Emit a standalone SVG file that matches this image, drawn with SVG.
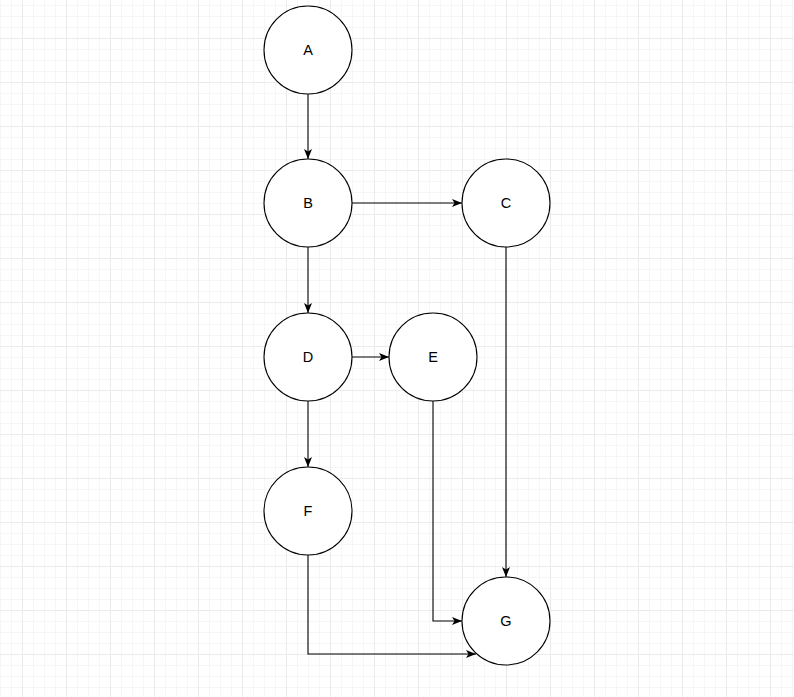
<svg xmlns="http://www.w3.org/2000/svg" width="794" height="697" viewBox="0 0 794 697">
<style>
.node circle{fill:#ffffff;stroke:#000000;stroke-width:1.1}
.node text{font-family:"Liberation Sans",Arial,Helvetica,sans-serif;font-size:14.5px;fill:#000000;text-anchor:middle;dominant-baseline:central}
.edge{fill:none;stroke:#000000;stroke-width:1.1}
</style>
<defs>
<pattern id="grid" x="22" y="38" width="44" height="44" patternUnits="userSpaceOnUse">
<path d="M11.5 0V44M22.5 0V44M33.5 0V44M0 11.5H44M0 22.5H44M0 33.5H44" stroke="#f6f6f6" stroke-width="1" fill="none"/>
<path d="M0.5 0V44M0 0.5H44" stroke="#ebebeb" stroke-width="1" fill="none"/>
</pattern>
<marker id="arr" viewBox="0 0 10 8" refX="10" refY="4" markerWidth="10" markerHeight="8" markerUnits="userSpaceOnUse" orient="auto">
<path d="M0 0L10 4L0 8L2.5 4Z" fill="#000000"/>
</marker>
</defs>
<rect width="794" height="697" fill="#ffffff"/>
<rect width="794" height="697" fill="url(#grid)"/>
<g id="connectors">
<path class="edge" d="M308 94V159" marker-end="url(#arr)"/>
<path class="edge" d="M352 203H462" marker-end="url(#arr)"/>
<path class="edge" d="M308 247V313" marker-end="url(#arr)"/>
<path class="edge" d="M352 357H389" marker-end="url(#arr)"/>
<path class="edge" d="M308 401V467" marker-end="url(#arr)"/>
<path class="edge" d="M506 247V577" marker-end="url(#arr)"/>
<path class="edge" d="M433 401V621H462" marker-end="url(#arr)"/>
<path class="edge" d="M308 555V654H476" marker-end="url(#arr)"/>
</g>
<g id="A" class="node"><circle cx="308" cy="50" r="44"/><text x="308" y="50">A</text></g>
<g id="B" class="node"><circle cx="308" cy="203" r="44"/><text x="308" y="203">B</text></g>
<g id="C" class="node"><circle cx="506" cy="203" r="44"/><text x="506" y="203">C</text></g>
<g id="D" class="node"><circle cx="308" cy="357" r="44"/><text x="308" y="357">D</text></g>
<g id="E" class="node"><circle cx="433" cy="357" r="44"/><text x="433" y="357">E</text></g>
<g id="F" class="node"><circle cx="308" cy="511" r="44"/><text x="308" y="511">F</text></g>
<g id="G" class="node"><circle cx="506" cy="621" r="44"/><text x="506" y="621">G</text></g>
</svg>
